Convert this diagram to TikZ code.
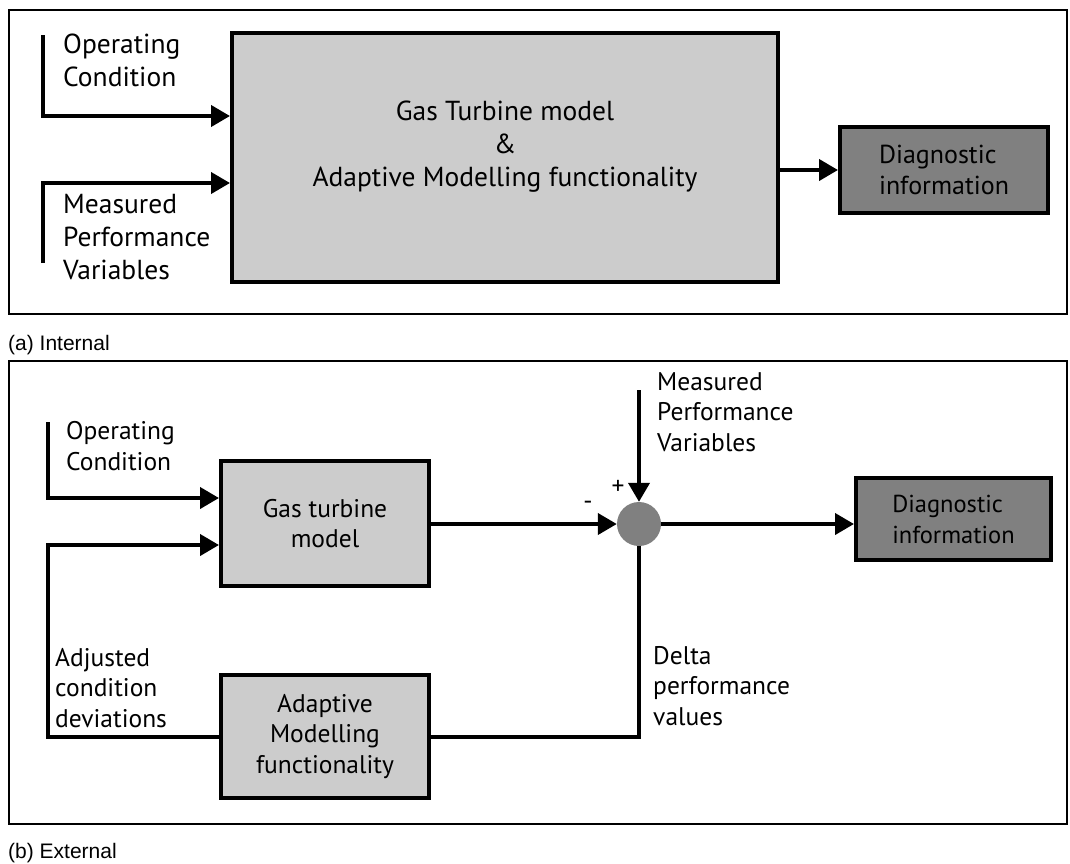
\documentclass[tikz,border=0pt]{standalone}
\usepackage{fontspec}
\setmainfont{PT Sans}
\newfontfamily\capfont{Liberation Sans}
\usetikzlibrary{arrows.meta}
\definecolor{boxgray}{HTML}{CCCCCC}
\definecolor{darkgray}{HTML}{808080}
\begin{document}
\begin{tikzpicture}[x=1pt,y=-1pt,
  frame/.style={draw=black, line width=2.5pt},
  block/.style={draw=black, line width=4pt, fill=boxgray, inner sep=0pt, align=center},
  outbox/.style={draw=black, line width=4pt, fill=darkgray, inner sep=0pt, align=left},
  conn/.style={line width=4pt, line join=miter},
  arr/.style={conn, -{Triangle[length=19pt,width=21pt]}},
  bigtxt/.style={font=\fontsize{27.5}{33}\selectfont},
  midtxt/.style={font=\fontsize{25.5}{30.5}\selectfont},
  lbl/.style={inner sep=0pt, align=left, anchor=base west},
  captxt/.style={inner sep=0pt, anchor=base west, font=\capfont\fontsize{21}{24}\selectfont}
]
\useasboundingbox (0,0) rectangle (1070,863);

% ---------- (a) Internal ----------
\draw[frame] (9,10) rectangle (1067,314);
\node[captxt] (capA) at (8,350) {(a) Internal};

\node[block, minimum width=546pt, minimum height=249pt] (gtA) at (505,157.5) {};
% multi-line nodes: the base anchor sits on the last line
\node[bigtxt, inner sep=0pt, align=center, anchor=base] (gtAtext) at (505,186.7)
  {Gas Turbine model\\\&\\Adaptive Modelling functionality};
\node[outbox, font=\fontsize{26}{31}\selectfont, minimum width=208pt, minimum height=86pt] (diagA) at (944,170)
  {Diagnostic\\information};

\coordinate (opAtop) at (43,35);
\coordinate (opAbend) at (43,116);
\coordinate (mpAbot) at (43,263);
\coordinate (mpAbend) at (43,183);
\draw[arr] (opAtop) -- (opAbend) -- (opAbend -| gtA.west);
\draw[arr] (mpAbot) -- (mpAbend) -- (mpAbend -| gtA.west);
\draw[arr] (gtA.east |- diagA.west) -- (diagA.west);

\node[lbl, bigtxt] (opAlbl) at (63,86.5) {Operating\\Condition};
\node[lbl, bigtxt] (mpAlbl) at (63,279.5) {Measured\\Performance\\Variables};

% ---------- (b) External ----------
\draw[frame] (9,361) rectangle (1067,824);
\node[captxt] (capB) at (8,858) {(b) External};

\node[block, midtxt, minimum width=208pt, minimum height=125pt] (gtB) at (325,523.5) {Gas turbine\\model};
\node[block, midtxt, minimum width=208pt, minimum height=123pt] (amB) at (325,736.5) {Adaptive\\Modelling\\functionality};
\node[circle, fill=darkgray, minimum size=44pt, inner sep=0pt] (sum) at (639,524) {};
\node[outbox, font=\fontsize{24.5}{31}\selectfont, minimum width=195pt, minimum height=82pt] (diagB) at (953.5,519)
  {Diagnostic\\information};

\coordinate (opBtop) at (48,422);
\coordinate (opBbend) at (48,498);
\coordinate (fbtop) at (48,545);
\coordinate (mpBtop) at (639,390);
\draw[arr] (opBtop) -- (opBbend) -- (opBbend -| gtB.west);
\draw[arr] (amB.west) -- (amB.west -| fbtop) -- (fbtop) -- (fbtop -| gtB.west);
\draw[arr] (sum.west -| gtB.east) -- (sum.west);
\draw[arr] (mpBtop) -- (sum.north);
\draw[arr] (sum.east) -- (sum.east -| diagB.west);
\draw[conn] (sum.south) -- (sum.south |- amB.east) -- (amB.east);

\node[lbl, midtxt] (opBlbl) at (66,470) {Operating\\Condition};
\node[lbl, midtxt] (adjlbl) at (55,727) {Adjusted\\condition\\deviations};
\node[lbl, midtxt] (mpBlbl) at (657,451) {Measured\\Performance\\Variables};
\node[lbl, midtxt] (dellbl) at (653,725) {Delta\\performance\\values};
\node[midtxt, inner sep=0pt] (plus) at (618,487) {+};
\node[midtxt, inner sep=0pt] (minus) at (588,505) {-};
\end{tikzpicture}
\end{document}
